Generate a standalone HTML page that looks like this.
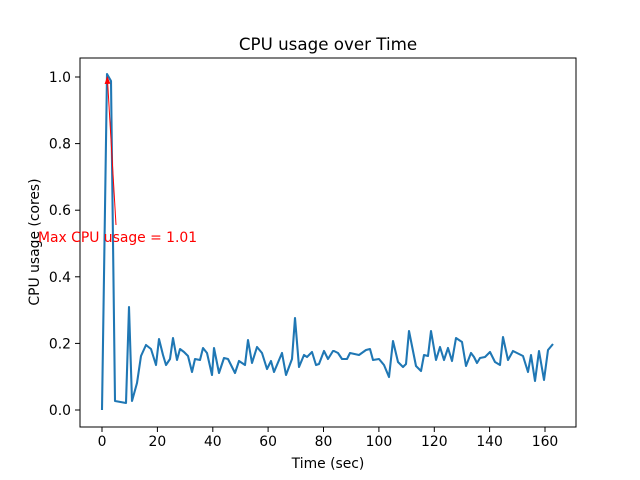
<!DOCTYPE html><html><head><style>body{margin:0;background:#fff}svg{display:block;font-family:"DejaVu Sans",sans-serif}</style></head><body>
<svg width="640" height="480" viewBox="0 0 640 480">
<rect x="80" y="58" width="496" height="369" fill="#fff" stroke="#000" stroke-width="1"/>
<g stroke="#000" stroke-width="1">
<line x1="102" y1="427" x2="102" y2="432"/><line x1="157.4" y1="427" x2="157.4" y2="432"/><line x1="212.8" y1="427" x2="212.8" y2="432"/><line x1="268.1" y1="427" x2="268.1" y2="432"/><line x1="323.5" y1="427" x2="323.5" y2="432"/><line x1="378.9" y1="427" x2="378.9" y2="432"/><line x1="434.3" y1="427" x2="434.3" y2="432"/><line x1="489.6" y1="427" x2="489.6" y2="432"/><line x1="545" y1="427" x2="545" y2="432"/>
<line x1="75" y1="410" x2="80" y2="410"/><line x1="75" y1="343.4" x2="80" y2="343.4"/><line x1="75" y1="276.8" x2="80" y2="276.8"/><line x1="75" y1="210.2" x2="80" y2="210.2"/><line x1="75" y1="143.6" x2="80" y2="143.6"/><line x1="75" y1="77" x2="80" y2="77"/>
</g>
<g font-size="13.9" text-anchor="middle" fill="#000">
<text x="102" y="446">0</text><text x="157.4" y="446">20</text><text x="212.8" y="446">40</text><text x="268.1" y="446">60</text><text x="323.5" y="446">80</text><text x="378.9" y="446">100</text><text x="434.3" y="446">120</text><text x="489.6" y="446">140</text><text x="545" y="446">160</text>
</g>
<g font-size="13.9" text-anchor="end" fill="#000">
<text x="71" y="415">0.0</text><text x="71" y="348.4">0.2</text><text x="71" y="281.8">0.4</text><text x="71" y="215.2">0.6</text><text x="71" y="148.6">0.8</text><text x="71" y="82">1.0</text>
</g>
<text x="328" y="468" font-size="13.9" text-anchor="middle">Time (sec)</text>
<text x="0" y="0" font-size="13.9" text-anchor="middle" transform="translate(39,242) rotate(-90)">CPU usage (cores)</text>
<text x="328" y="50" font-size="16.7" text-anchor="middle">CPU usage over Time</text>
<polyline fill="none" stroke="#1f77b4" stroke-width="2.08" stroke-linejoin="round" points="102,410 107,74 111,81 115,401 126,403 129,307 132,401 137,383 141,356 146,345 151,349 156,365 159,339 163,355 166,365 170,359 173,338 177,360 180,349 184,352 188,356 192,372 195,359 200,360 203,348 207,353 212,375 214,348 219,373 224,358 228,359 235,373 239,361 245,365 248,340 252,363 257,347 262,353 267,369 271,361 274,372 282,353 286,375 292,359 295,318 299,367 304,355 307,357 312,352 316,365 319,364 324,351 328,359 333,351 334,351 338,353 342,359 347,359 350,353 359,355 366,350 370,349 373,360 379,359 384,365 389,377 393,341 398,362 403,367 406,364 409,331 416,366 421,371 424,355 428,356 431,331 436,360 440,347 444,360 448,348 452,361 456,338 462,342 466,366 471,353 474,357 477,363 480,358 485,357 490,352 495,362 500,365 503,337 508,360 513,351 517,353 523,356 528,372 531,355 535,381 539,351 544,380 548,350 553,344"/>
<line x1="116" y1="225" x2="107.5" y2="80" stroke="red" stroke-width="1"/>
<path d="M107.3,76 L104.6,84 L110.4,83.7 Z" fill="red"/>
<text x="38" y="242" font-size="13.9" fill="red">Max CPU usage = 1.01</text>
</svg></body></html>
